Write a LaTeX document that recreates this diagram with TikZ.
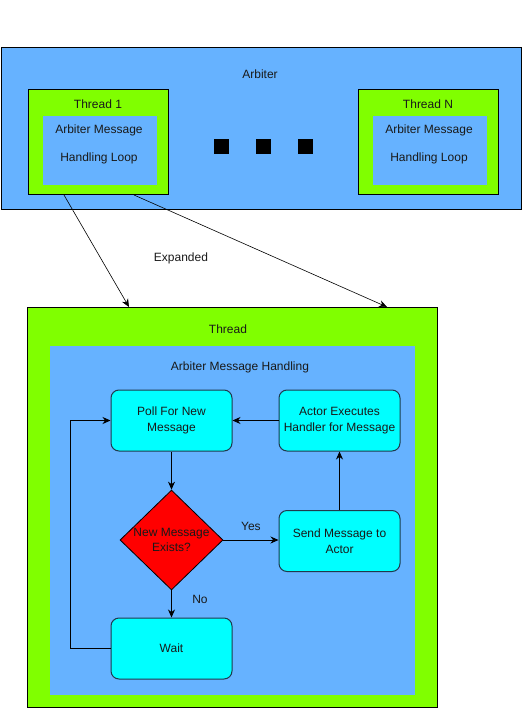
\documentclass[tikz,border=0pt]{standalone}
\usepackage{fontspec}
\setmainfont{Liberation Sans}
\usetikzlibrary{shapes.geometric,arrows.meta,calc}
\definecolor{abl}{HTML}{66B2FF}
\definecolor{agr}{HTML}{80FF00}
\definecolor{acy}{HTML}{00FFFF}
\definecolor{ard}{HTML}{FF0000}
\definecolor{aed}{HTML}{1F3A4D}
\begin{document}
\begin{tikzpicture}[x=1pt,y=-1pt,
  every node/.style={font=\fontsize{12}{14}\selectfont, text=black!90},
  frame/.style={draw=black, line width=1pt, inner sep=0pt, anchor=north west},
  inbox/.style={fill=abl, inner sep=0pt, anchor=north west},
  sq/.style={fill=black, inner sep=0pt, minimum size=15pt},
  stepbox/.style={draw=aed, fill=acy, rounded corners=8pt, line width=1pt, minimum width=121pt, minimum height=61pt, align=center, inner sep=2pt, font=\fontsize{12}{15.5}\selectfont},
  decide/.style={diamond, draw=black, fill=ard, line width=0.8pt, minimum width=103pt, minimum height=80pt, inner sep=0pt, align=center, font=\fontsize{12}{15.5}\selectfont},
  lbl/.style={inner sep=0pt},
  arr/.style={-{Stealth[length=8pt,width=7pt]}, line width=0.8pt, draw=black},
  thinarr/.style={-{Stealth[length=8pt,width=7pt]}, line width=0.6pt, draw=black}
]
\useasboundingbox (0,0) rectangle (521,708);
% Arbiter
\node[frame, fill=abl, minimum width=520pt, minimum height=162pt] (arb) at (0.5,47) {};
\node[lbl] (arbl) at (260,74) {Arbiter};
% Thread 1
\node[frame, fill=agr, minimum width=140pt, minimum height=105pt] (t1) at (28,89) {};
\node[inbox, minimum width=114pt, minimum height=69pt] (t1in) at (43,116) {};
\node[lbl] (t1l) at (98,104) {Thread 1};
\node[lbl, align=center] (t1t) at (99,144) {Arbiter Message\\[14pt]Handling Loop};
% Thread N
\node[frame, fill=agr, minimum width=140pt, minimum height=105pt] (tn) at (358,89) {};
\node[inbox, minimum width=114pt, minimum height=69pt] (tnin) at (373,116) {};
\node[lbl] (tnl) at (428,104) {Thread N};
\node[lbl, align=center] (tnt) at (429,144) {Arbiter Message\\[14pt]Handling Loop};
% squares
\node[sq] (s1) at (221.5,146.5) {};
\node[sq] (s2) at (263.5,146.5) {};
\node[sq] (s3) at (305.5,146.5) {};
% Thread expanded
\node[frame, fill=agr, minimum width=410pt, minimum height=400pt] (th) at (27,307) {};
\node[inbox, minimum width=365pt, minimum height=349pt] (thin) at (50,345.5) {};
\node[lbl] (thl) at (228,329) {Thread};
\node[lbl] (ahl) at (240,367) {Arbiter Message Handling};
% Expanded arrows
\coordinate (e1s) at ([xshift=36pt]t1.south west);
\coordinate (e2s) at ([xshift=106pt]t1.south west);
\coordinate (e1e) at ([xshift=102pt]th.north west);
\coordinate (e2e) at ([xshift=360pt]th.north west);
\draw[thinarr] (e1s) -- (e1e);
\draw[thinarr] (e2s) -- (e2e);
\node[lbl] (exl) at (181,258) {Expanded};
% flow
\node[stepbox] (poll) at (171.5,420.5) {Poll For New\\Message};
\node[stepbox] (act) at (339.5,420.5) {Actor Executes\\Handler for Message};
\node[decide] (dec) at (171.5,540) {New Message\\Exists?};
\node[stepbox] (send) at (339.5,541) {Send Message to\\Actor};
\node[stepbox] (wait) at (171.5,648.5) {Wait};
\draw[arr] (poll) -- (dec);
\draw[arr] (dec) -- node[lbl, above=9pt, pos=0.5] (yes) {Yes} (send.west |- dec);
\draw[arr] (send) -- (act);
\draw[arr] (act.west |- poll.west) -- (poll.east);
\draw[arr] (dec) -- (wait);
\node[lbl] (no) at (200,599) {No};
\draw[arr] (wait.west) -- ++(-40,0) |- (poll.west);
\end{tikzpicture}
\end{document}
